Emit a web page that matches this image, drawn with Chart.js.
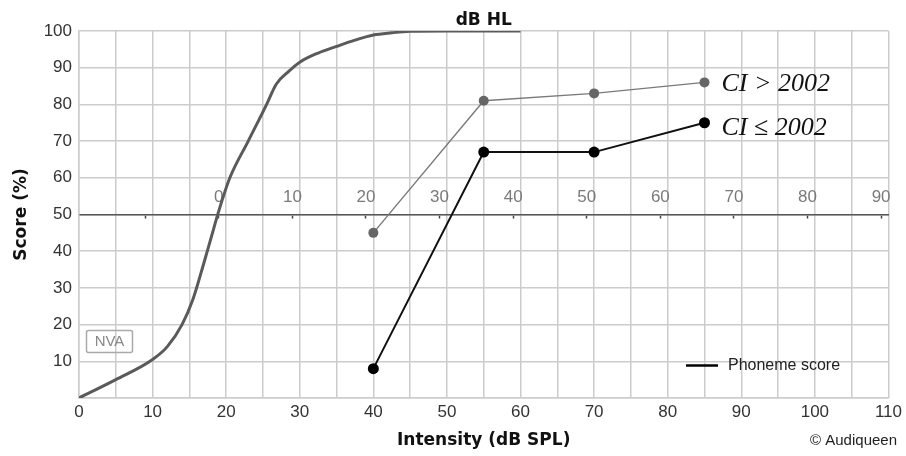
<!DOCTYPE html>
<html>
<head>
<meta charset="utf-8">
<script src="https://cdn.jsdelivr.net/npm/chart.js@4"></script>
<style>
  html, body { margin: 0; padding: 0; background: #fff; }
  #wrap { width: 906px; height: 456px; position: relative; }
</style>
</head>
<body>
<div id="wrap"><canvas id="chart"></canvas></div>
<script>
// normal-hearing (NVA) reference curve, intensity in dB SPL vs score %
const nvaSpl   = [0, 5, 10, 12, 14, 15.5, 17, 18, 19, 20.5, 23, 25.5, 26.8, 28.5, 30, 32.5, 35, 37.5, 40, 42.5, 45, 50, 60];
const nvaScore = [0, 5, 10.5, 14, 20, 27, 37, 44, 51, 60, 70, 80, 85.5, 89, 91.5, 94, 95.8, 97.5, 98.9, 99.5, 99.9, 100, 100];

// CI results at the tested levels
const ciSpl      = [40, 55, 70, 85];
const ciNewScore = [45, 81, 83, 86];   // CI > 2002
const ciOldScore = [8, 67, 67, 75];    // CI <= 2002

// dB HL axis drawn across the 50 % line
const hlOffset = 19;   // 0 dB HL sits at ~19 dB SPL
const hlTicks = [-10, 0, 10, 20, 30, 40, 50, 60, 70, 80, 90];

const gridCol = '#cccccc';
const tickFont = { family: 'Liberation Sans', size: 17 };
const boldFont = { family: 'DejaVu Sans', size: 17, weight: 'bold' };

const toPoints = (xs, ys) => xs.map((x, i) => ({ x: x, y: ys[i] }));

const extras = {
    id: 'extras',
    afterDatasetsDraw(chart) {
        const ctx = chart.ctx;
        const x = chart.scales.x, y = chart.scales.y;
        const area = chart.chartArea;
        ctx.save();

        // dB HL caption over the plot
        ctx.fillStyle = '#111';
        ctx.font = 'bold 17px "DejaVu Sans"';
        ctx.textAlign = 'center';
        ctx.textBaseline = 'alphabetic';
        ctx.fillText('dB HL', (area.left + area.right) / 2, 25);

        // NVA box
        ctx.strokeStyle = '#aaaaaa';
        ctx.lineWidth = 1.5;
        ctx.beginPath();
        ctx.roundRect(86.5, 330.5, 46, 22, 2);
        ctx.stroke();
        ctx.fillStyle = '#888';
        ctx.font = '15px "Liberation Sans"';
        ctx.textBaseline = 'middle';
        ctx.fillText('NVA', 109.5, 342);

        // series labels next to the last points
        const last = ciSpl.length - 1;
        ctx.fillStyle = '#111';
        ctx.font = 'italic 26px "Liberation Serif"';
        ctx.textAlign = 'left';
        ctx.textBaseline = 'alphabetic';
        ctx.fillText('CI > 2002', x.getPixelForValue(ciSpl[last]) + 17, y.getPixelForValue(ciNewScore[last]) + 9);
        ctx.fillText('CI \u2264 2002', x.getPixelForValue(ciSpl[last]) + 17, y.getPixelForValue(ciOldScore[last]) + 12);

        // legend
        ctx.strokeStyle = '#000';
        ctx.lineWidth = 2.5;
        ctx.beginPath();
        ctx.moveTo(686, 365.5);
        ctx.lineTo(718, 365.5);
        ctx.stroke();
        ctx.fillStyle = '#222';
        ctx.font = '16px "Liberation Sans"';
        ctx.textBaseline = 'middle';
        ctx.fillText('Phoneme score', 728, 366);

        // credit
        ctx.font = '15px "Liberation Sans"';
        ctx.textAlign = 'right';
        ctx.fillText('\u00a9 Audiqueen', 897, 441);
        ctx.restore();
    }
};

new Chart(document.getElementById('chart'), {
    type: 'line',
    data: {
        datasets: [
            { label: 'NVA', data: toPoints(nvaSpl, nvaScore), xAxisID: 'x', borderColor: '#5a5a5a', borderWidth: 3, pointRadius: 0, cubicInterpolationMode: 'monotone' },
            { label: 'CI > 2002', data: toPoints(ciSpl, ciNewScore), xAxisID: 'x', borderColor: '#7a7a7a', borderWidth: 1.4, pointRadius: 5, pointBorderWidth: 0, pointBackgroundColor: '#666' },
            { label: 'CI <= 2002', data: toPoints(ciSpl, ciOldScore), xAxisID: 'x', borderColor: '#111', borderWidth: 2, pointRadius: 5.5, pointBorderWidth: 0, pointBackgroundColor: '#000' }
        ]
    },
    options: {
        responsive: true,
        maintainAspectRatio: false,
        animation: false,
        layout: { padding: { top: 31, right: 17, left: 0, bottom: 0 } },
        plugins: { legend: { display: false }, tooltip: { enabled: false } },
        scales: {
            x: {
                type: 'linear', position: 'bottom', min: 0, max: 110,
                afterFit: s => { s.height = 58; },
                ticks: { stepSize: 5, padding: 4, color: '#333', font: tickFont, maxRotation: 0, autoSkip: false, callback: v => v % 10 === 0 ? v : '' },
                grid: { color: gridCol, lineWidth: 1.5, drawTicks: false },
                border: { color: gridCol, width: 1.5 },
                title: { display: true, text: 'Intensity (dB SPL)', color: '#111', font: boldFont, padding: { top: 0, bottom: 5 } }
            },
            x2: {
                type: 'linear', position: { y: 50 }, min: -hlOffset, max: 110 - hlOffset,
                afterBuildTicks: s => { s.ticks = hlTicks.map(v => ({ value: v })); },
                ticks: { padding: -30, color: '#7a7a7a', font: tickFont, maxRotation: 0, autoSkip: false, callback: v => v < 0 ? '' : v },
                grid: { drawOnChartArea: false, color: '#444', tickLength: 3, tickWidth: 1.5 },
                border: { color: '#555', width: 1.5 }
            },
            y: {
                type: 'linear', position: 'left', min: 0, max: 100,
                afterFit: s => { s.width = 79; },
                ticks: { stepSize: 10, padding: 7, color: '#333', font: tickFont, callback: v => v === 0 ? '' : v },
                grid: { color: gridCol, lineWidth: 1.5, drawTicks: false },
                border: { color: gridCol, width: 1.5 },
                title: { display: true, text: 'Score (%)', color: '#111', font: boldFont, padding: { top: 11, bottom: 0 } }
            }
        }
    },
    plugins: [extras]
});
</script>
</body>
</html>
